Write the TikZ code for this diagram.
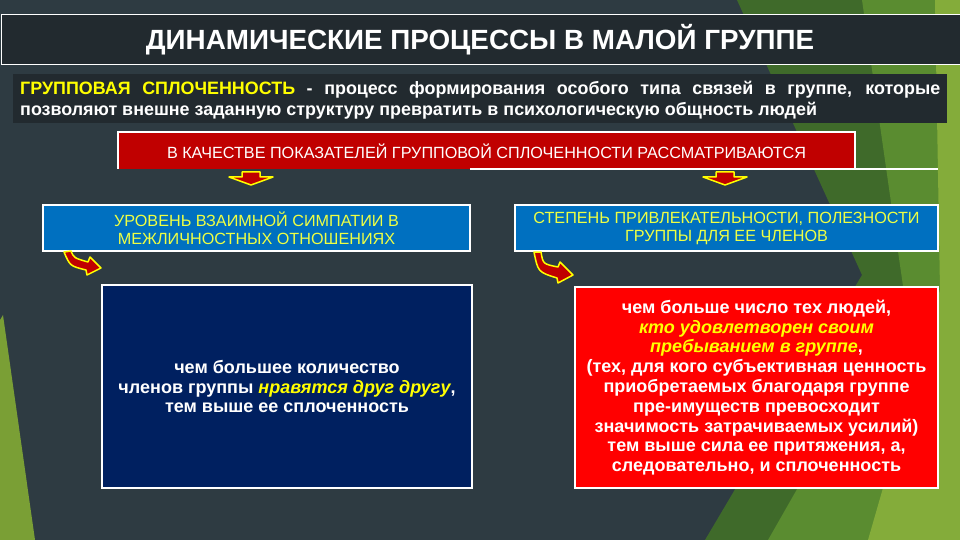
\documentclass[tikz,border=0pt]{standalone}
\usepackage{fontspec}
\setmainfont{Liberation Sans}
\usetikzlibrary{calc}
\definecolor{bg}{HTML}{2E3B42}
\definecolor{bar}{HTML}{222A2F}
\definecolor{hdrred}{HTML}{C00000}
\definecolor{brightred}{HTML}{FF0000}
\definecolor{midblue}{HTML}{0070C0}
\definecolor{navy}{HTML}{002060}
\definecolor{yel}{HTML}{FFFF00}
\definecolor{blueyel}{HTML}{EEFF44}
\definecolor{gA}{HTML}{3F6A2A}
\definecolor{gB}{HTML}{5A8C30}
\definecolor{gC}{HTML}{84AC3A}
\definecolor{gD}{HTML}{7A9F35}
\tikzset{
  whitebox/.style={draw=white, line width=2pt, inner sep=0pt, align=center},
  bodytext/.style={font=\fontsize{18}{19.8}\selectfont\bfseries, text=white},
  capstext/.style={font=\fontsize{16.2}{18}\selectfont, text=blueyel},
  arrowshape/.style={fill=hdrred, draw=yel, line width=1.5pt, line join=round},
  downarr/.pic={\path[arrowshape] (-9,-7) -- (9,-7) -- (9,-2) -- (22,-2) -- (0,6) -- (-22,-2) -- (-9,-2) -- cycle;}
}
\begin{document}
\begin{tikzpicture}[x=1pt,y=-1pt]
\useasboundingbox (0,0) rectangle (960,540);
% background
\fill[bg] (0,0) rectangle (960,540);
\fill[gA] (737,0) -- (960,0) -- (960,540) -- (705,540) -- (862,275) -- cycle;
\fill[gB] (862,0) -- (960,0) -- (960,540) -- (768,540) -- (905,300) -- cycle;
\fill[gC] (935,0) -- (960,0) -- (960,540) -- (868,540) -- (940,290) -- cycle;
\fill[gD] (0,320) -- (3,315) -- (35,540) -- (0,540) -- cycle;
% title bar
\path[fill=bar, draw=white, line width=1pt] (1,15) rectangle (965,65);
\node[font=\fontsize{27.8}{30}\selectfont\bfseries, text=white, inner sep=0pt] (title) at (480,40) {ДИНАМИЧЕСКИЕ ПРОЦЕССЫ В МАЛОЙ ГРУППЕ};
% definition
\fill[bar] (13,74) rectangle (947,123);
\node[font=\fontsize{17.9}{21}\selectfont\bfseries, text=white, inner sep=0pt, align=left, anchor=north west] (def) at (20,81)
  {\makebox[920pt][s]{\textcolor{yel}{ГРУППОВАЯ СПЛОЧЕННОСТЬ} - процесс формирования особого типа связей в группе, которые}\\
   позволяют внешне заданную структуру превратить в психологическую общность людей};
% header
\fill[hdrred] (118,132) rectangle (855,169);
\draw[white, line width=2pt] (118,169) -- (118,132) -- (855,132) -- (855,169);
\draw[white, line width=2pt] (470,169) -- (938,169);
\node[font=\fontsize{16.2}{18}\selectfont, text=white, inner sep=0pt] (hdr) at (486.5,151) {В КАЧЕСТВЕ ПОКАЗАТЕЛЕЙ ГРУППОВОЙ СПЛОЧЕННОСТИ РАССМАТРИВАЮТСЯ};
% down arrows
\pic at (251,179) {downarr};
\pic at (725,179) {downarr};
% blue boxes
\node[whitebox, fill=midblue, minimum width=427pt, minimum height=46pt, capstext] (crit1) at (256.5,228)
  {УРОВЕНЬ ВЗАИМНОЙ СИМПАТИИ В\\МЕЖЛИЧНОСТНЫХ ОТНОШЕНИЯХ};
\node[whitebox, fill=midblue, minimum width=423pt, minimum height=46pt, capstext] (crit2) at (726.5,228)
  {СТЕПЕНЬ ПРИВЛЕКАТЕЛЬНОСТИ, ПОЛЕЗНОСТИ\\ГРУППЫ ДЛЯ ЕЕ ЧЛЕНОВ};
% curved arrows
\path[arrowshape] (64,252) -- (71,251) .. controls (74,258) .. (88,262) -- (90,257) -- (101,268) -- (87,275) -- (86,270) .. controls (70,266) .. (64,252) -- cycle;
\path[arrowshape] (534,252) -- (541,252) .. controls (543,264) .. (558,267) -- (560,262) -- (573,275) -- (558,283) -- (557,278) .. controls (538,272) .. (534,252) -- cycle;
% result boxes
\node[whitebox, fill=navy, minimum width=370pt, minimum height=203pt, bodytext] (res1) at (287,386.5)
  {чем большее количество\\членов группы \textcolor{yel}{\itshape нравятся друг другу},\\тем выше ее сплоченность};
\node[whitebox, fill=brightred, minimum width=363pt, minimum height=201pt, bodytext] (res2) at (756.5,387.5)
  {чем больше число тех людей,\\
   \textcolor{yel}{\itshape кто удовлетворен своим}\\
   \textcolor{yel}{\itshape пребыванием в группе},\\
   (тех, для кого субъективная ценность\\
   приобретаемых благодаря группе\\
   пре-имуществ превосходит\\
   значимость затрачиваемых усилий)\\
   тем выше сила ее притяжения, а,\\
   следовательно, и сплоченность};
\end{tikzpicture}
\end{document}
